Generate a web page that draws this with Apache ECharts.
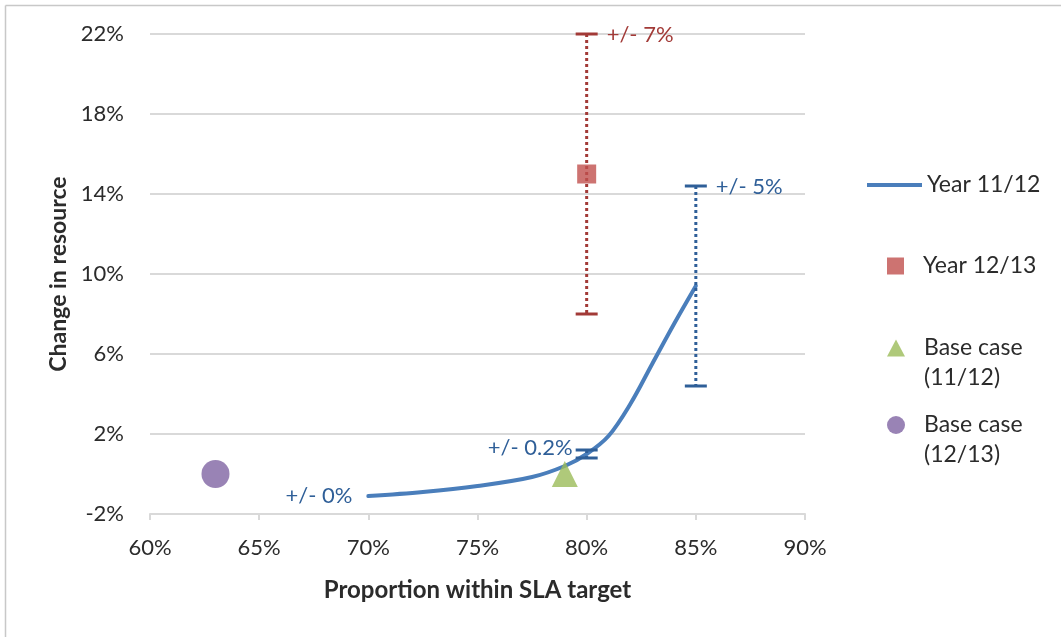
<!DOCTYPE html>
<html>
<head>
<meta charset="utf-8">
<title>Change in resource vs proportion within SLA target</title>
<script src="https://cdn.jsdelivr.net/npm/echarts@6/dist/echarts.min.js"></script>
<style>
  html, body { margin: 0; padding: 0; background: #ffffff; }
  #chart { width: 1061px; height: 637px; }
</style>
</head>
<body>
<div id="chart"></div>
<script>
// Year 11/12 curve: proportion within SLA target (%) vs change in resource (%)
const year1112X = [70, 72.5, 75, 77.5, 79, 80, 81, 82, 83, 84, 85];
const year1112Y = [-1.1, -0.9, -0.6, -0.15, 0.4, 1.0, 1.9, 3.5, 5.5, 7.5, 9.4];
// error amounts (+/-) at the labelled points of the curve
const year1112Err = [0, null, null, null, null, 0.2, null, null, null, null, 5];

// Year 12/13 point with its error bar
const year1213X = [80];
const year1213Y = [15];
const year1213Err = [7];

// Base cases
const base1112X = [79];
const base1112Y = [0];
const base1213X = [63];
const base1213Y = [0];

// axis ticks
const xTicks = [60, 65, 70, 75, 80, 85, 90];
const yTicks = [-2, 2, 6, 10, 14, 18, 22];

const seriesNames = ['Year 11/12', 'Year 12/13', 'Base case\n(11/12)', 'Base case\n(12/13)'];

const FONT = 'Lato, "Open Sans", sans-serif';
const TEXT = '#2b2b2b';
const GRID = '#d9d9d9';
const BLUE = '#4a7ebb';
const BLUE_BAR = '#2f5f98';
const RED = '#c0504d';
const RED_BAR = '#a23a37';
const GREEN = '#9bbb59';
const PURPLE = '#8064a2';

// where each error label sits relative to its point
const blueLabelSide = { 70: 'left', 80: 'leftTop', 85: 'rightTop' };
const redLabelSide = { 80: 'rightTop' };

function pairs(xs, ys) {
  return xs.map((x, i) => [x, ys[i]]);
}

function errorBars(name, xs, ys, errs, barColor, textColor, sides) {
  const data = [];
  xs.forEach((x, i) => {
    if (errs[i] !== null && errs[i] !== undefined) data.push([x, ys[i], errs[i]]);
  });
  return {
    type: 'custom',
    name: name,
    silent: true,
    z: 4,
    data: data,
    encode: { x: 0, y: 1 },
    renderItem: function (params, api) {
      const x = api.value(0), y = api.value(1), e = api.value(2);
      const mid = api.coord([x, y]);
      const hi = api.coord([x, y + e]);
      const lo = api.coord([x, y - e]);
      const half = 11;
      const children = [];
      if (e > 0) {
        children.push({
          type: 'line',
          shape: { x1: hi[0], y1: hi[1], x2: lo[0], y2: lo[1] },
          style: { stroke: barColor, lineWidth: 3, lineDash: [3, 3] }
        });
        [hi, lo].forEach(p => {
          children.push({
            type: 'line',
            shape: { x1: p[0] - half, y1: p[1], x2: p[0] + half, y2: p[1] },
            style: { stroke: barColor, lineWidth: 3 }
          });
        });
      }
      const side = sides[x];
      let tx, ty, align;
      if (side === 'left') { tx = mid[0] - 16; ty = mid[1]; align = 'right'; }
      else if (side === 'leftTop') { tx = hi[0] - half - 3; ty = hi[1] - 2; align = 'right'; }
      else { tx = hi[0] + half + 9; ty = hi[1] + 1; align = 'left'; }
      children.push({
        type: 'text',
        x: tx, y: ty,
        style: {
          text: '+/- ' + e + '%',
          fill: textColor,
          font: '22px ' + FONT,
          align: align,
          verticalAlign: 'middle'
        }
      });
      return { type: 'group', children: children };
    }
  };
}

// one legend per entry so each sits at its own spot on the right;
// two-line entries get a leading blank line so the icon lines up with the first line
function legendAt(name, top, icon, w, h, left, textGap, twoLine) {
  return {
    data: [{ name: name, icon: icon }],
    orient: 'vertical',
    left: left,
    top: top,
    padding: 0,
    itemWidth: w,
    itemHeight: h,
    itemGap: 0,
    selectedMode: false,
    formatter: twoLine ? (n => '\n' + n) : undefined,
    textStyle: {
      fontFamily: FONT,
      fontSize: 23,
      color: TEXT,
      lineHeight: 30,
      padding: [0, 0, 0, textGap]
    }
  };
}

const chart = echarts.init(document.getElementById('chart'), null, { renderer: 'canvas' });

chart.setOption({
  animation: false,
  backgroundColor: '#ffffff',
  grid: { left: 150, right: 256, top: 34, bottom: 123 },
  graphic: [
    { type: 'line', shape: { x1: 5.5, y1: 5.5, x2: 1061, y2: 5.5 }, style: { stroke: '#c8c8c8', lineWidth: 1.5 }, silent: true },
    { type: 'line', shape: { x1: 5.5, y1: 5.5, x2: 5.5, y2: 637 }, style: { stroke: '#c8c8c8', lineWidth: 1.5 }, silent: true }
  ],
  legend: [
    legendAt(seriesNames[0], 170, 'rect', 55, 4, 867, 0, false),
    legendAt(seriesNames[1], 251, 'rect', 17, 17, 887, 14, false),
    legendAt(seriesNames[2], 303, 'triangle', 18, 17, 887, 14, true),
    legendAt(seriesNames[3], 380, 'circle', 18, 18, 887, 14, true)
  ],
  xAxis: {
    type: 'value',
    min: xTicks[0],
    max: xTicks[xTicks.length - 1],
    interval: xTicks[1] - xTicks[0],
    name: 'Proportion within SLA target',
    nameLocation: 'middle',
    nameGap: 64,
    nameTextStyle: { fontFamily: FONT, fontSize: 24, fontWeight: 'bold', color: TEXT },
    axisLine: { show: true, onZero: false, lineStyle: { color: GRID, width: 2 } },
    axisTick: { show: true, length: 6, lineStyle: { color: GRID, width: 2 } },
    axisLabel: { formatter: '{value}%', fontFamily: FONT, fontSize: 22, color: TEXT, margin: 23 },
    splitLine: { show: false }
  },
  yAxis: {
    type: 'value',
    min: yTicks[0],
    max: yTicks[yTicks.length - 1],
    interval: yTicks[1] - yTicks[0],
    name: 'Change in resource',
    nameLocation: 'middle',
    nameGap: 78,
    nameTextStyle: { fontFamily: FONT, fontSize: 23, fontWeight: 'bold', color: TEXT },
    axisLine: { show: false },
    axisTick: { show: false },
    axisLabel: { formatter: '{value}%', fontFamily: FONT, fontSize: 22, color: TEXT, margin: 26 },
    splitLine: { show: true, lineStyle: { color: GRID, width: 2 } }
  },
  series: [
    {
      name: seriesNames[0],
      type: 'line',
      data: pairs(year1112X, year1112Y),
      smooth: 0.35,
      showSymbol: false,
      symbol: 'none',
      itemStyle: { color: BLUE },
      lineStyle: { color: BLUE, width: 4, cap: 'round' },
      z: 3
    },
    errorBars('Year 11/12 error', year1112X, year1112Y, year1112Err, BLUE_BAR, BLUE_BAR, blueLabelSide),
    errorBars('Year 12/13 error', year1213X, year1213Y, year1213Err, RED_BAR, RED_BAR, redLabelSide),
    {
      name: seriesNames[1],
      type: 'scatter',
      data: pairs(year1213X, year1213Y),
      symbol: 'rect',
      symbolSize: 19,
      itemStyle: { color: RED },
      z: 6
    },
    {
      name: seriesNames[2],
      type: 'scatter',
      data: pairs(base1112X, base1112Y),
      symbol: 'triangle',
      symbolSize: [26, 26],
      itemStyle: { color: GREEN },
      z: 6
    },
    {
      name: seriesNames[3],
      type: 'scatter',
      data: pairs(base1213X, base1213Y),
      symbol: 'circle',
      symbolSize: 28,
      itemStyle: { color: PURPLE },
      z: 6
    }
  ]
});
</script>
</body>
</html>
